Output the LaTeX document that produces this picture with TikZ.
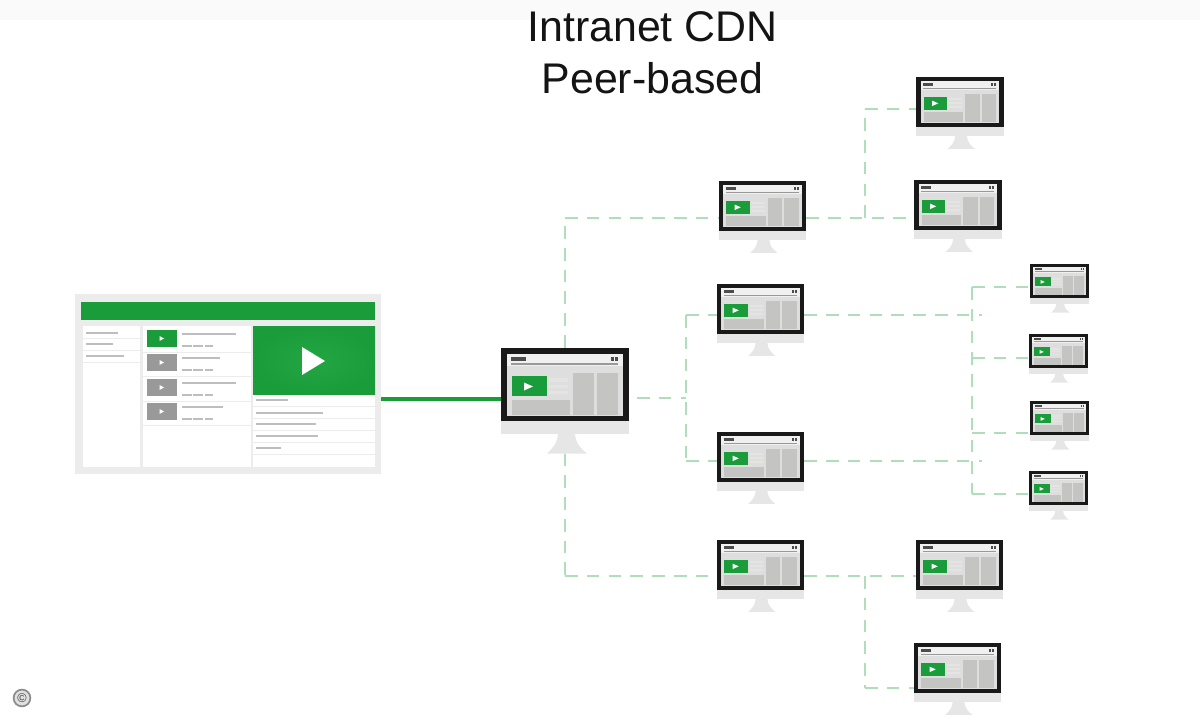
\documentclass[tikz,border=0pt]{standalone}
\usepackage{fontspec}
\setmainfont{Liberation Sans}
\usetikzlibrary{calc}
\definecolor{peergreen}{RGB}{26,156,58}
\definecolor{peerglow}{RGB}{34,166,66}
\definecolor{peerdash}{RGB}{176,222,188}
\definecolor{framegray}{RGB}{236,236,236}
\definecolor{chingray}{RGB}{230,230,230}
\definecolor{screengray}{RGB}{222,222,222}
\definecolor{panelgray}{RGB}{196,196,194}
\definecolor{linegray}{RGB}{190,190,190}
\definecolor{thumbgray}{RGB}{153,153,153}
\definecolor{sepgray}{RGB}{236,236,236}
\tikzstyle{peerlink}=[dash pattern=on 9pt off 6.5pt,line width=1pt,draw=peerdash]
\tikzstyle{videolink}=[line width=2.2pt,draw=peergreen]
\tikzstyle{monitorbody}=[shape=rectangle,fill=black!90,inner sep=0pt,minimum width=3.2cm,minimum height=1.825cm]
\tikzstyle{pagebox}=[shape=rectangle,fill=framegray,inner sep=0pt,minimum width=7.65cm,minimum height=4.5cm]
\tikzstyle{textline}=[line width=1.6pt,draw=linegray]
\tikzstyle{sepline}=[line width=.6pt,draw=sepgray]
\tikzset{monitor/.pic={
 \fill[chingray] (-64,35) rectangle (64,49.5);
 \fill[chingray] (-7,49.5) -- (10,49.5) .. controls (11,60) and (16,64) .. (22,69) -- (-18,69) .. controls (-13,64) and (-8,60) .. (-7,49.5) -- cycle;
 \node[monitorbody,transform shape] (-body) at (0,0) {};
 \fill[screengray] (-58,-30.5) rectangle (58,31);
 \fill[black!6] (-58,-30.5) rectangle (58,-18);
 \fill[black!70] (-54,-27.5) rectangle (-39,-23.5);
 \fill[black!70] (46,-27.5) rectangle (49,-23.5);
 \fill[black!70] (50,-27.5) rectangle (53,-23.5);
 \fill[thumbgray] (-54,-21) rectangle (53,-19.5);
 \fill[panelgray] (7.5,-11.5) rectangle (29,30);
 \fill[panelgray] (32,-11.5) rectangle (53,30);
 \fill[panelgray] (-53.5,15) rectangle (5,30);
 \fill[panelgray!45] (-16,-6) rectangle (3,-3);
 \fill[panelgray!45] (-16,0) rectangle (3,3);
 \fill[panelgray!45] (-16,6) rectangle (3,9);
 \fill[peergreen] (-53.5,-8) rectangle (-18.5,11.5);
 \fill[white] (-41,-2) -- (-41,6) -- (-32,2) -- cycle;
 \coordinate (-foot) at (2,69);
}}
\begin{document}
\begin{tikzpicture}[x=.025cm,y=-.025cm]
 \useasboundingbox (0,0) rectangle (1200,720);

 \fill[black!2] (0,0) rectangle (1200,20);
 \node[font=\fontsize{30.5}{37}\selectfont,align=center,text=black!92] (title) at (652.5,53) {Intranet CDN\\Peer-based};

 \node[pagebox] (page) at (228,384) {};
 \fill[peergreen] (81,302) rectangle (375,320);
 \fill[white] (83,326) rectangle (140,467);
 \fill[white] (143,326) rectangle (251,467);
 \fill[white] (253,326) rectangle (375,467);
 \shade[inner color=peerglow,outer color=peergreen] (253,327) rectangle (375,394);
 \fill[white] (302,347) -- (302,375) -- (325,361) -- cycle;

 \foreach \y/\len in {333/118,344/113,356/124}
  \draw[textline] (86,\y) -- (\len,\y);
 \foreach \y in {338,350,362}
  \draw[sepline] (83,\y) -- (140,\y);
 \foreach \y/\col/\len in {330/peergreen/236,354/thumbgray/220,379/thumbgray/236,403/thumbgray/223}{
  \fill[\col] (147,\y) rectangle ++(30,17);
  \fill[white] (159.5,\y+6) -- (159.5,\y+11) -- (164,\y+8.5) -- cycle;
  \draw[textline] (182,\y+4) -- (\len,\y+4);
  \draw[textline,dash pattern=on 7pt off 1pt,line width=1.2pt] (182,\y+16) -- (213,\y+16);
  \draw[sepline] (143,\y+22) -- (251,\y+22);
 }
 \foreach \y/\len in {400/288,413/323,424/316,436/318,448/281}
  \draw[textline] (256,\y) -- (\len,\y);
 \foreach \y in {406,418,430,442,454}
  \draw[sepline] (253,\y) -- (375,\y);

 \pic (host) at (565,384.5) {monitor};

 \pic[scale=.68] (a) at (762.5,206) {monitor};
 \pic[scale=.68] (b) at (760.5,309) {monitor};
 \pic[scale=.68] (c) at (760.5,457) {monitor};
 \pic[scale=.68] (d) at (760.5,565) {monitor};

 \pic[scale=.68] (a1) at (960,102) {monitor};
 \pic[scale=.68] (a2) at (958,205) {monitor};
 \pic[scale=.68] (d1) at (959.5,565) {monitor};
 \pic[scale=.68] (d2) at (957.5,668) {monitor};

 \pic[scale=.46] (s1) at (1059.5,281) {monitor};
 \pic[scale=.46] (s2) at (1058.5,351) {monitor};
 \pic[scale=.46] (s3) at (1059.5,418) {monitor};
 \pic[scale=.46] (s4) at (1058.5,488) {monitor};

 \coordinate (upcorner) at (565,218);
 \coordinate (downcorner) at (565,576);
 \coordinate (hostright) at (637,398);
 \coordinate (midjoin) at (686,398);
 \coordinate (bcorner) at (686,315);
 \coordinate (ccorner) at (686,461);
 \coordinate (ajoin) at (865,218);
 \coordinate (acorner) at (865,109);
 \coordinate (djoin) at (865,576);
 \coordinate (dcorner) at (865,688);
 \coordinate (btail) at (982,315);
 \coordinate (ctail) at (982,461);
 \coordinate (stop) at (972,287);
 \coordinate (sbottom) at (972,494);
 \coordinate (s2join) at (972,358);
 \coordinate (s3join) at (972,433);

 \path
 (page.east |- 0,399) edge [videolink] (host-body.west |- 0,399)

 (host-body.north) edge [peerlink] (upcorner)
 (upcorner) edge [peerlink] (upcorner -| a-body.west)
 (downcorner |- host-foot) edge [peerlink] (downcorner)
 (downcorner) edge [peerlink] (downcorner -| d-body.west)
 (hostright) edge [peerlink] (midjoin)
 (bcorner) edge [peerlink] (ccorner)
 (bcorner) edge [peerlink] (bcorner -| b-body.west)
 (ccorner) edge [peerlink] (ccorner -| c-body.west)

 (ajoin -| a-body.east) edge [peerlink] (ajoin -| a2-body.west)
 (ajoin) edge [peerlink] (acorner)
 (acorner) edge [peerlink] (acorner -| a1-body.west)

 (djoin -| d-body.east) edge [peerlink] (djoin -| d1-body.west)
 (djoin) edge [peerlink] (dcorner)
 (dcorner) edge [peerlink] (dcorner -| d2-body.west)

 (btail -| b-body.east) edge [peerlink] (btail)
 (ctail -| c-body.east) edge [peerlink] (ctail)
 (stop) edge [peerlink] (sbottom)
 (stop) edge [peerlink] (stop -| s1-body.west)
 (s2join) edge [peerlink] (s2join -| s2-body.west)
 (s3join) edge [peerlink] (s3join -| s3-body.west)
 (sbottom) edge [peerlink] (sbottom -| s4-body.west);

 \node[shape=circle,fill=black!12,draw=black!45,line width=1.2pt,inner sep=0pt,minimum size=.42cm,font=\fontsize{9}{9}\selectfont,text=black!75] (copyright) at (22,698) {\textcopyright};
\end{tikzpicture}
\end{document}
